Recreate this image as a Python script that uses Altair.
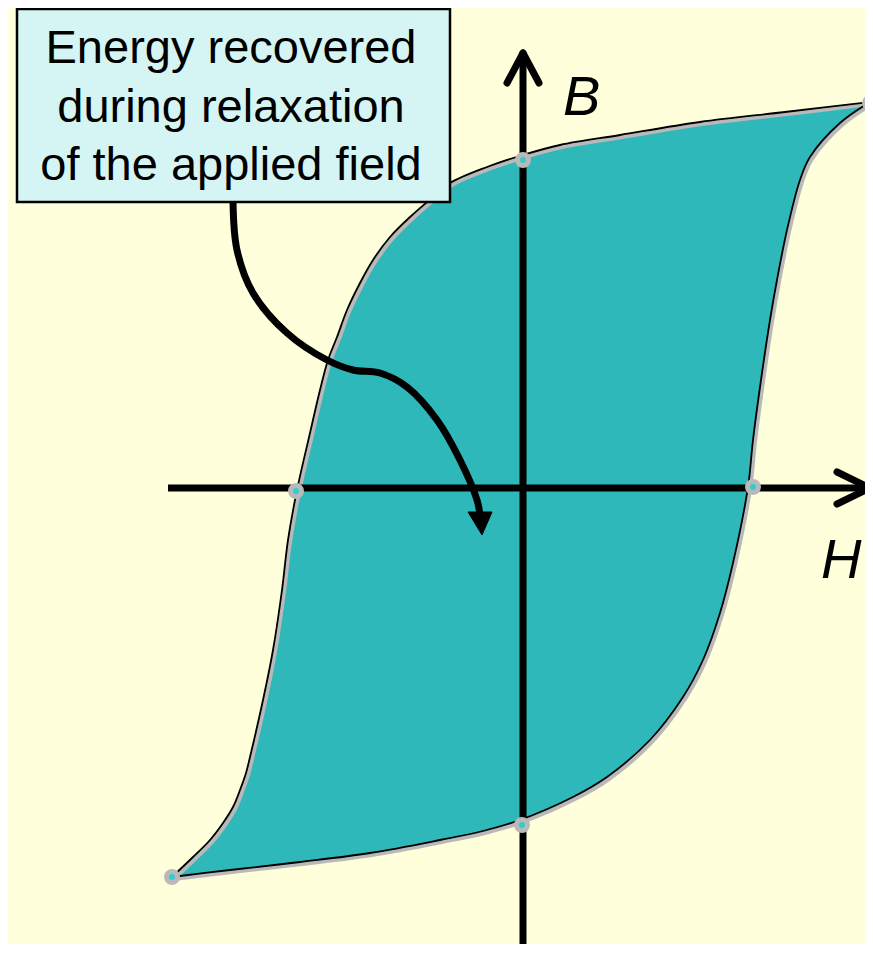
import altair as alt
import pandas as pd

# ---- Hysteresis loop (H, B in arbitrary units; origin at axes crossing) ----
# upper (descending) branch: from +saturation tip to -saturation tip
upper_H = [3.47, 2.62, 1.77, 0.97, 0.37, 0.00, -0.36, -0.73, -0.90, -1.13, -1.33, -1.50,
           -1.63, -1.76, -1.86, -1.95, -2.03, -2.13, -2.26, -2.35, -2.41, -2.50, -2.60,
           -2.73, -2.77, -2.83, -2.90, -3.00, -3.13, -3.30, -3.51]
upper_B = [3.86, 3.76, 3.66, 3.53, 3.43, 3.33, 3.21, 3.05, 2.91, 2.71, 2.51, 2.28,
           2.05, 1.78, 1.51, 1.28, 0.98, 0.55, -0.02, -0.52, -1.02, -1.62, -2.12,
           -2.69, -2.85, -3.02, -3.19, -3.35, -3.52, -3.69, -3.89]
# lower (ascending) branch: from -saturation tip back to +saturation tip
lower_H = [-3.51, -2.93, -2.23, -1.53, -0.83, -0.40, -0.03, 0.50, 0.84, 1.27, 1.60, 1.80,
           1.97, 2.10, 2.25, 2.30, 2.39, 2.47, 2.54, 2.64, 2.77, 2.87, 3.17, 3.47]
lower_B = [-3.89, -3.82, -3.74, -3.65, -3.52, -3.43, -3.32, -3.09, -2.89, -2.52, -2.09, -1.72,
           -1.25, -0.75, 0.01, 0.48, 1.15, 1.68, 2.08, 2.58, 3.08, 3.31, 3.65, 3.86]
# key points: remanence, coercivity, saturation tips
marker_H = [0.00, -2.27, 2.30, -0.01, -3.51, 3.47]
marker_B = [3.28, -0.03, 0.01, -3.37, -3.89, 3.85]

# ---- callout arrow ----
arrow_H = [-2.90, -2.86, -2.70, -2.36, -1.96, -1.70, -1.43, -1.16, -0.86, -0.63, -0.46, -0.43]
arrow_B = [2.88, 2.38, 1.95, 1.55, 1.28, 1.18, 1.15, 1.01, 0.68, 0.28, -0.12, -0.27]
head_H = [-0.55, -0.31, -0.41, -0.55]
head_B = [-0.24, -0.24, -0.47, -0.24]

# ---- axes ----
haxis = {"H": [-3.55], "H2": [3.47], "B": [0.0]}
vaxis = {"H": [0.0], "B": [-4.72], "B2": [4.35]}
chevrons_H = [3.14, 3.47, 3.14, 3.47, -0.16, 0.00, 0.16, 0.00]
chevrons_B = [0.16, 0.00, -0.16, 0.00, 4.05, 4.35, 4.05, 4.35]
chevron_id = [0, 0, 1, 1, 2, 2, 3, 3]

# ---- texts ----
box = {"H": [-5.06], "H2": [-0.73], "B": [4.79], "B2": [2.86]}
box_lines = ["Energy recovered", "during relaxation", "of the applied field"]
box_line_B = [4.25, 3.66, 3.08]
box_line_H = [-2.92, -2.92, -2.92]
axis_labels = ["B", "H"]
axis_label_H = [0.40, 2.98]
axis_label_B = [3.73, -0.90]

BG = "#ffffdc"
TEAL = "#2eb8b9"
FONT = "Liberation Sans"

X = alt.Scale(domain=[-5.15, 3.42])
Y = alt.Scale(domain=[-4.56, 4.80])


def xq(f="H"):
    return alt.X(f"{f}:Q", scale=X, axis=None)


def yq(f="B"):
    return alt.Y(f"{f}:Q", scale=Y, axis=None)


loop_df = pd.DataFrame({
    "H": upper_H + lower_H,
    "B": upper_B + lower_B,
    "i": list(range(len(upper_H) + len(lower_H))),
})
branch_df = pd.DataFrame({
    "H": upper_H + lower_H,
    "B": upper_B + lower_B,
    "i": list(range(len(upper_H) + len(lower_H))),
    "branch": ["upper"] * len(upper_H) + ["lower"] * len(lower_H),
})

fill = alt.Chart(loop_df).mark_line(
    fill=TEAL, stroke=None, interpolate="catmull-rom"
).encode(x=xq(), y=yq(), order="i:Q")

shadow = alt.Chart(branch_df).mark_line(
    stroke="#b9b9b9", strokeWidth=4, interpolate="catmull-rom", xOffset=2, yOffset=2
).encode(x=xq(), y=yq(), order="i:Q", detail="branch:N")

outline = alt.Chart(branch_df).mark_line(
    stroke="black", strokeWidth=1.8, interpolate="catmull-rom"
).encode(x=xq(), y=yq(), order="i:Q", detail="branch:N")

markers = alt.Chart(pd.DataFrame({"H": marker_H, "B": marker_B})).mark_point(
    shape="circle", filled=True, fill="#33cccc", stroke="#b9b9b9", strokeWidth=5,
    size=120, opacity=1
).encode(x=xq(), y=yq())

h_axis = alt.Chart(pd.DataFrame(haxis)).mark_rule(
    color="black", strokeWidth=7, strokeCap="butt"
).encode(x=xq(), x2="H2:Q", y=yq())

v_axis = alt.Chart(pd.DataFrame(vaxis)).mark_rule(
    color="black", strokeWidth=7, strokeCap="butt"
).encode(x=xq(), y=yq(), y2="B2:Q")

chev = alt.Chart(pd.DataFrame({"H": chevrons_H, "B": chevrons_B, "c": chevron_id})).mark_line(
    color="black", strokeWidth=7, strokeCap="round", strokeJoin="round"
).encode(x=xq(), y=yq(), detail="c:N")

arrow = alt.Chart(pd.DataFrame({"H": arrow_H, "B": arrow_B, "i": list(range(len(arrow_H)))})).mark_line(
    color="black", strokeWidth=7, interpolate="catmull-rom", strokeCap="butt"
).encode(x=xq(), y=yq(), order="i:Q")

head = alt.Chart(pd.DataFrame({"H": head_H, "B": head_B, "i": list(range(len(head_H)))})).mark_line(
    fill="black", stroke="black", strokeWidth=1, interpolate="linear"
).encode(x=xq(), y=yq(), order="i:Q")

box_rect = alt.Chart(pd.DataFrame(box)).mark_rect(
    fill="#d5f5f4", stroke="black", strokeWidth=2.5
).encode(x=xq(), x2="H2:Q", y=yq(), y2="B2:Q")

box_text = alt.Chart(pd.DataFrame({"t": box_lines, "H": box_line_H, "B": box_line_B})).mark_text(
    font=FONT, fontSize=47, color="black", align="center", baseline="alphabetic"
).encode(x=xq(), y=yq(), text="t:N")

labels = alt.Chart(pd.DataFrame({"t": axis_labels, "H": axis_label_H, "B": axis_label_B})).mark_text(
    font=FONT, fontSize=56, fontStyle="italic", color="black", align="left", baseline="alphabetic"
).encode(x=xq(), y=yq(), text="t:N")

chart = alt.layer(
    fill, shadow, outline, h_axis, v_axis, chev, markers, arrow, head, box_rect, box_text, labels
).properties(
    width=857, height=936,
    autosize=alt.AutoSizeParams(type="none"),
    padding=0,
    background=BG,
).configure_view(stroke=None)

chart.save("out.html", embed_options={"renderer": "svg", "actions": False})
